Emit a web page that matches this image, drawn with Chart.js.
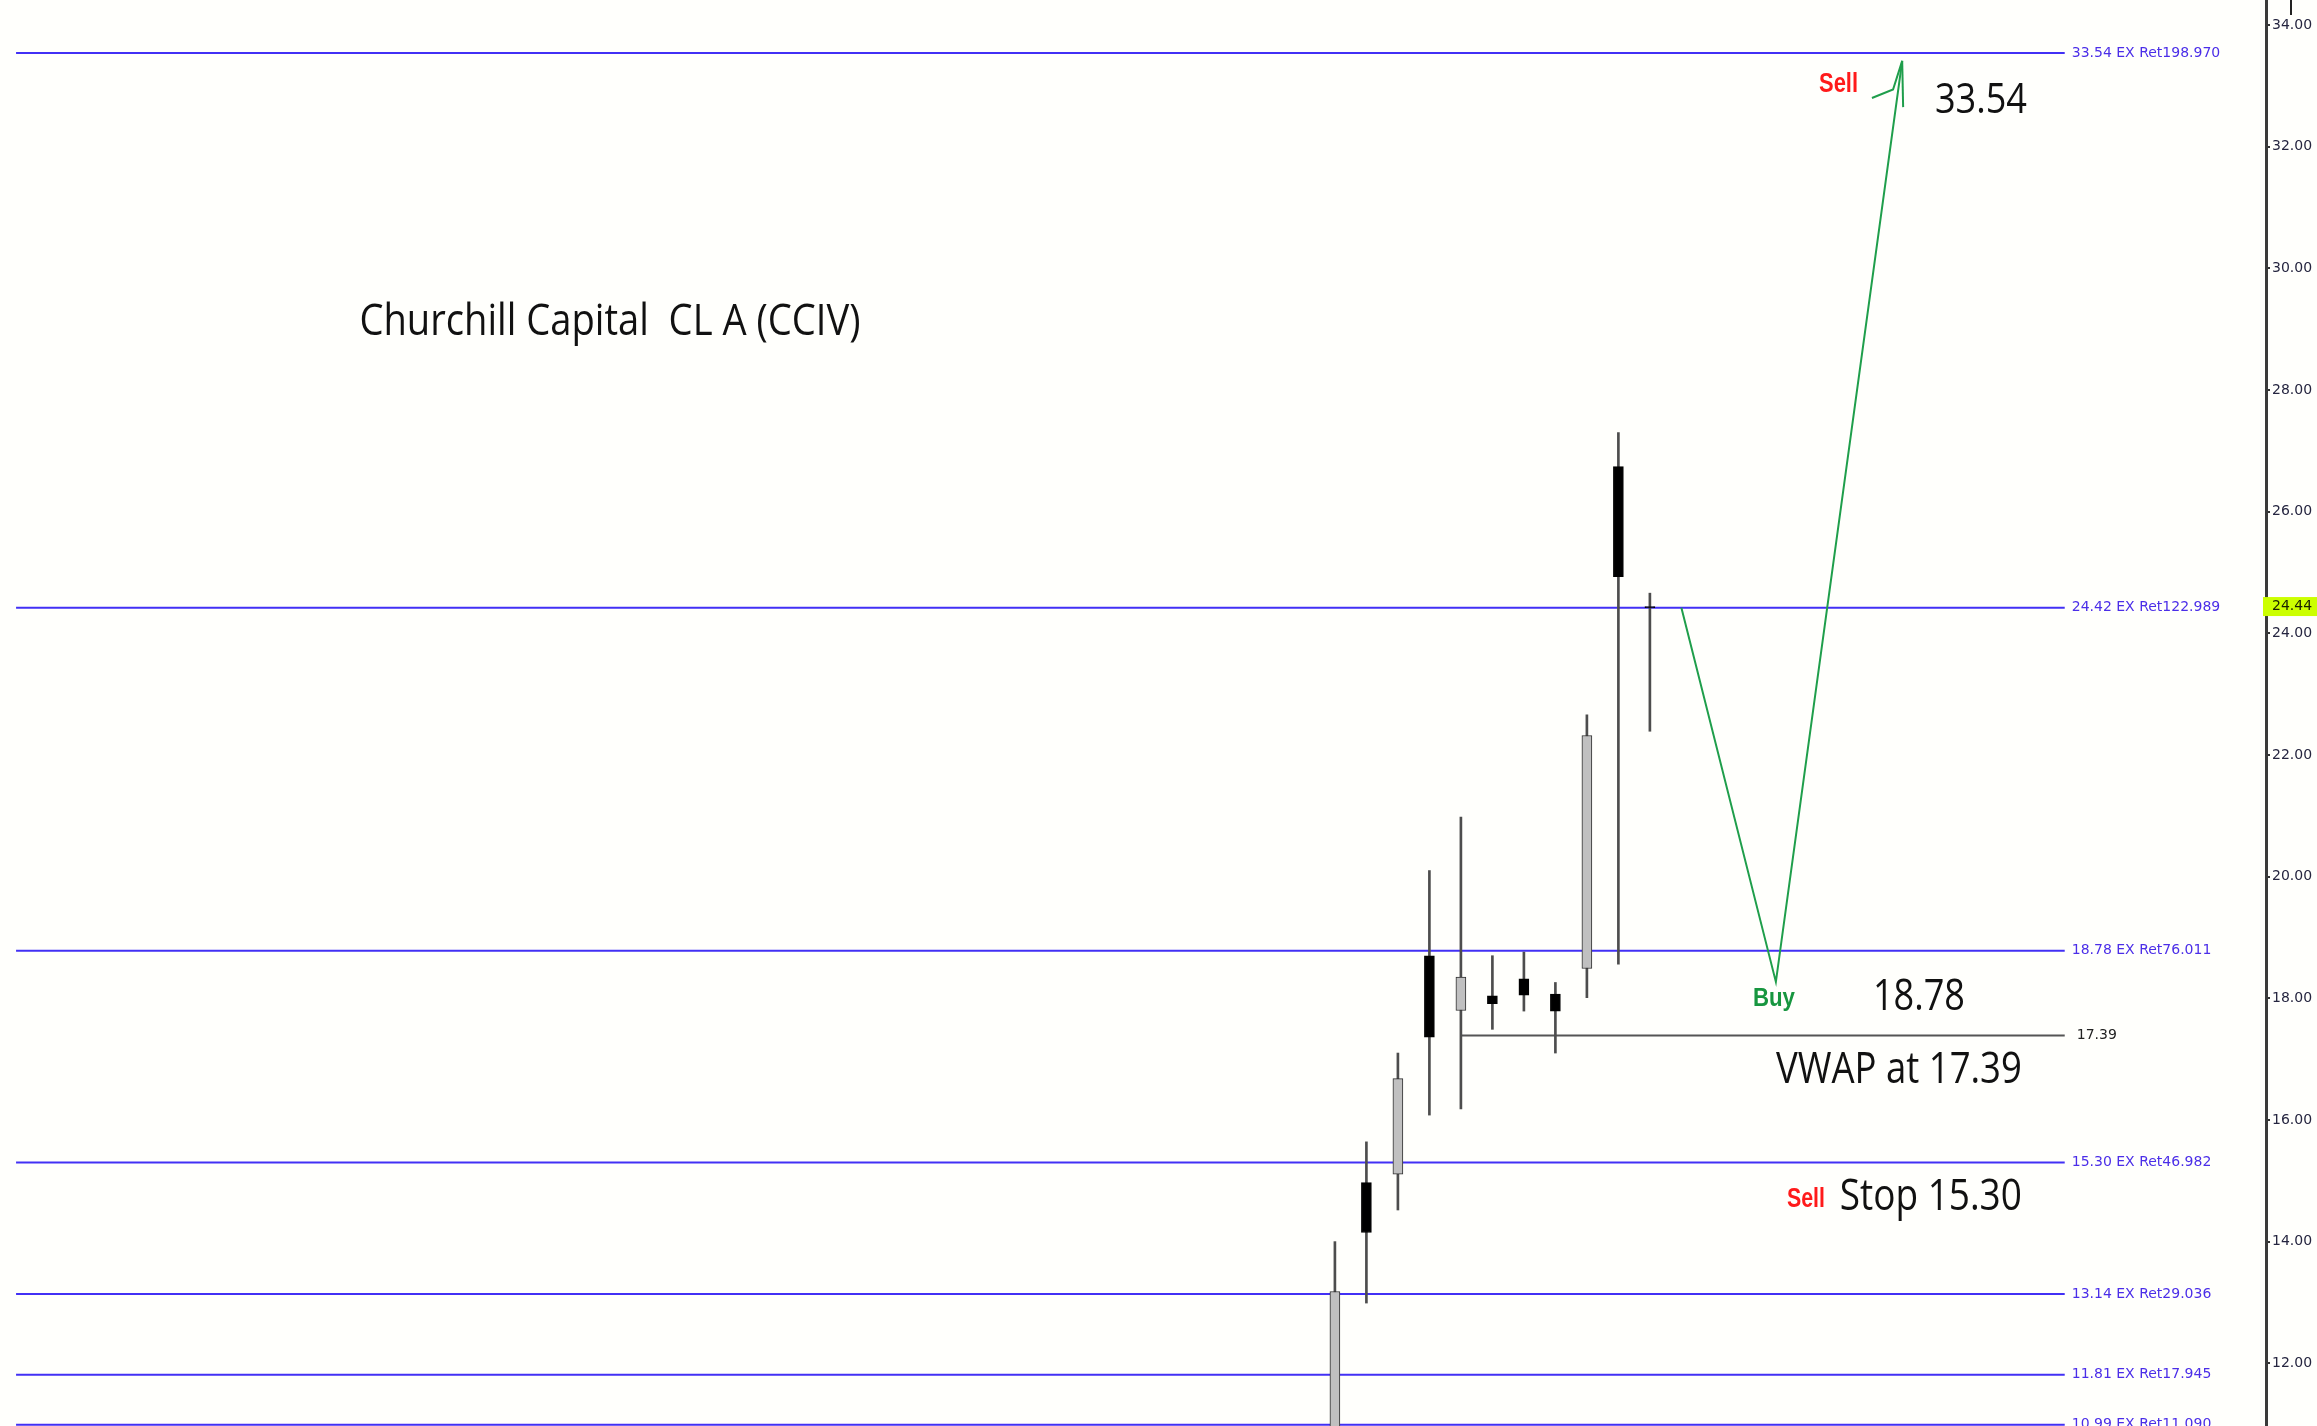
<!DOCTYPE html>
<html>
<head>
<meta charset="utf-8">
<script src="https://cdn.jsdelivr.net/npm/chart.js@4.4.1/dist/chart.umd.min.js"></script>
<style>
  html, body { margin: 0; padding: 0; background: #fffffc; }
  canvas { display: block; }
</style>
</head>
<body>
<canvas id="myChart" width="2317" height="1426"></canvas>
<script>
const ctx = document.getElementById('myChart').getContext("2d");

// daily candles, index 0 = first visible bar
const candleIdx = [0, 1, 2, 3, 4, 5, 6, 7, 8, 9, 10];
const opens  = [10.40, 14.97, 15.11, 18.70, 17.80, 18.04, 18.32, 18.07, 18.49, 26.74, 24.42];
const highs  = [14.00, 15.64, 17.10, 20.10, 20.98, 18.70, 18.76, 18.26, 22.66, 27.30, 24.66];
const lows   = [10.00, 12.99, 14.52, 16.08, 16.18, 17.49, 17.79, 17.10, 18.01, 18.56, 22.39];
const closes = [13.18, 14.15, 16.68, 17.36, 18.35, 17.91, 18.05, 17.79, 22.32, 24.93, 24.44];

// horizontal levels
const levelPrices = [33.54, 24.42, 18.78, 15.30, 13.14, 11.81, 10.99];
const levelLabels = [
  "33.54 EX Ret198.970",
  "24.42 EX Ret122.989",
  "18.78 EX Ret76.011",
  "15.30 EX Ret46.982",
  "13.14 EX Ret29.036",
  "11.81 EX Ret17.945",
  "10.99 EX Ret11.090",
];
const levelStart = -41.87;
const levelEnd = 23.17;

// vwap
const vwapPrice = 17.39;
const vwapStart = 4;

// projected path (green)
const pathX = [11.0, 14.0, 18.01];
const pathY = [24.42, 18.27, 33.41];
const barbLeftX = [17.05, 17.72, 18.01];
const barbLeftY = [32.80, 32.94, 33.41];
const barbRightX = [18.01, 18.04];
const barbRightY = [33.41, 32.65];

const yTicks = [12, 14, 16, 18, 20, 22, 24, 26, 28, 30, 32, 34];
const lastPrice = 24.44;

const levelColor = "#4230f5";

const isUp = candleIdx.map(i => closes[i] > opens[i] && Math.abs(closes[i] - opens[i]) > 0.05);

const pts = (xs, ys) => xs.map((v, i) => ({ x: v, y: ys[i] }));

// draw text squeezed to the width it has in the screenshot
function drawText(c, str, px, py, font, color, width) {
  c.save();
  c.font = font;
  c.textBaseline = "alphabetic";
  const w = c.measureText(str).width;
  c.translate(px, py);
  if (width) c.scale(width / w, 1);
  c.fillStyle = color;
  c.fillText(str, 0, 0);
  c.restore();
}

const notes = [
  { t: "Churchill Capital  CL A (CCIV)", x: -30.97, y: 28.904, font: '44px "Open Sans"', color: "#111", w: 501 },
  { t: "Sell", x: 15.37, y: 32.90, font: 'bold 28px "Liberation Sans"', color: "#ff1a1a", w: 39 },
  { t: "33.54", x: 19.05, y: 32.553, font: '42px "Open Sans"', color: "#111", w: 92 },
  { t: "Buy", x: 13.27, y: 17.873, font: 'bold 26px "Liberation Sans"', color: "#17963f", w: 42 },
  { t: "18.78", x: 17.08, y: 17.807, font: '44px "Open Sans"', color: "#111", w: 92 },
  { t: "VWAP at 17.39", x: 14.0, y: 16.602, font: '44px "Open Sans"', color: "#111", w: 246 },
  { t: "Sell", x: 14.35, y: 14.574, font: 'bold 28px "Liberation Sans"', color: "#ff1a1a", w: 38 },
  { t: "Stop 15.30", x: 16.03, y: 14.519, font: '44px "Open Sans"', color: "#111", w: 182 },
];

const annotate = {
  id: "annotate",
  beforeDraw(chart) {
    const c = chart.ctx;
    c.save();
    c.fillStyle = "#fffffc";
    c.fillRect(0, 0, chart.width, chart.height);
    c.restore();
  },
  afterDatasetsDraw(chart) {
    const c = chart.ctx;
    const { x, y } = chart.scales;
    c.save();
    c.font = '14px "DejaVu Sans"';
    c.textBaseline = "middle";
    c.fillStyle = "#4b2ee8";
    levelPrices.forEach((p, i) => {
      c.fillText(levelLabels[i], x.getPixelForValue(levelEnd) + 7, y.getPixelForValue(p));
    });
    c.fillStyle = "#222";
    c.fillText(vwapPrice.toFixed(2), x.getPixelForValue(levelEnd) + 12, y.getPixelForValue(vwapPrice));

    notes.forEach(n => {
      drawText(c, n.t, x.getPixelForValue(n.x), y.getPixelForValue(n.y), n.font, n.color, n.w);
    });

    // last price marker on the axis
    const ly = y.getPixelForValue(lastPrice);
    c.fillStyle = "#ccff00";
    c.fillRect(chart.chartArea.right - 3, ly - 9.5, chart.width - chart.chartArea.right + 3, 19);
    c.fillStyle = "#1a2200";
    c.font = '14px "DejaVu Sans"';
    c.fillText(lastPrice.toFixed(2), chart.chartArea.right + 6, ly);

    // small mark at top of price scale
    c.strokeStyle = "#222";
    c.lineWidth = 2;
    c.beginPath();
    c.moveTo(chart.chartArea.right + 25, 0);
    c.lineTo(chart.chartArea.right + 25, 15);
    c.stroke();
    c.restore();
  },
};

const lineDs = (data, color, width, order) => ({
  type: "line",
  data,
  borderColor: color,
  borderWidth: width,
  pointRadius: 0,
  fill: false,
  tension: 0,
  order,
});

const datasets = [
  ...levelPrices.map(p => lineDs(pts([levelStart, levelEnd], [p, p]), levelColor, 2, 5)),
  lineDs(pts([vwapStart, levelEnd], [vwapPrice, vwapPrice]), "#555", 2, 5),
  lineDs(pts(pathX, pathY), "#1f9e4b", 2, 4),
  lineDs(pts(barbLeftX, barbLeftY), "#1f9e4b", 2, 4),
  lineDs(pts(barbRightX, barbRightY), "#1f9e4b", 2, 4),
  {
    type: "bar",
    data: candleIdx.map(i => ({ x: i, y: [lows[i], highs[i]] })),
    backgroundColor: "#4d4d4d",
    barThickness: 2,
    grouped: false,
    order: 2,
  },
  {
    type: "bar",
    data: candleIdx.map(i => ({ x: i, y: [opens[i], closes[i]] })),
    backgroundColor: candleIdx.map(i => (isUp[i] ? "#c0c0c0" : "#000")),
    borderColor: candleIdx.map(i => (isUp[i] ? "#2f2f2f" : "#000")),
    borderWidth: 1,
    borderSkipped: false,
    barThickness: 10,
    grouped: false,
    order: 1,
  },
];

const config = {
  type: "bar",
  data: { datasets },
  options: {
    responsive: false,
    devicePixelRatio: 1,
    animation: false,
    events: [],
    layout: { padding: 0 },
    plugins: {
      legend: { display: false },
      tooltip: { enabled: false },
    },
    scales: {
      x: {
        type: "linear",
        display: false,
        offset: false,
        min: -42.38,
        max: 29.56,
      },
      y: {
        position: "right",
        min: 10.969,
        max: 34.411,
        afterBuildTicks: (scale) => {
          scale.ticks = yTicks.map(v => ({ value: v }));
        },
        afterFit: (scale) => {
          scale.width = 51;
          scale.paddingTop = 0;
          scale.paddingBottom = 0;
        },
        grid: {
          drawOnChartArea: false,
          drawTicks: true,
          tickLength: 4,
          color: "#333",
          lineWidth: 2,
        },
        border: { display: true, color: "#3a3a3a", width: 3 },
        ticks: {
          padding: 2,
          color: "#262640",
          font: { family: "DejaVu Sans", size: 14 },
          callback: (value) => Number(value).toFixed(2),
        },
      },
    },
  },
  plugins: [annotate],
};

const myChart = new Chart(ctx, config);
</script>
</body>
</html>
